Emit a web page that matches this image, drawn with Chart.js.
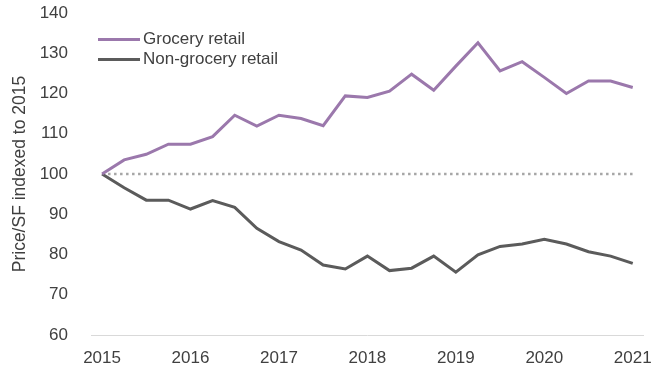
<!DOCTYPE html>
<html>
<head>
<meta charset="utf-8">
<script src="https://cdn.jsdelivr.net/npm/chart.js@4"></script>
<style>
  html, body { margin: 0; padding: 0; background: #fff; }
  #wrap { position: relative; width: 665px; height: 370px; font-family: "Liberation Sans", Arial, sans-serif; }
  #chart { position: absolute; left: 0; top: 0; }
  .legend { position: absolute; left: 98px; top: 29px; font-size: 17px; color: #404040; line-height: 20px; }
  .legend div { display: flex; align-items: center; }
  .legend i { display: inline-block; width: 42px; height: 3px; margin-right: 3px; }
</style>
</head>
<body>
<div id="wrap">
  <canvas id="chart" width="665" height="370"></canvas>
  <div class="legend">
    <div><i style="background:#9b78ac"></i>Grocery retail</div>
    <div><i style="background:#5b5b5b"></i>Non-grocery retail</div>
  </div>
</div>
<script>
// quarterly points, 2015 Q1 .. 2021 Q1; only year starts get a label
const quarters = [
  '2015', '', '', '',
  '2016', '', '', '',
  '2017', '', '', '',
  '2018', '', '', '',
  '2019', '', '', '',
  '2020', '', '', '',
  '2021',
];

const grocery = [
  100, 103.5, 104.9, 107.4, 107.4, 109.3, 114.6, 111.9,
  114.6, 113.8, 112.0, 119.4, 119.0, 120.6, 124.8, 120.8,
  126.8, 132.6, 125.6, 127.9, 124.0, 120.0, 123.1, 123.1,
  121.5,
];

const nonGrocery = [
  100, 96.6, 93.5, 93.5, 91.3, 93.4, 91.7, 86.5,
  83.2, 81.1, 77.4, 76.4, 79.6, 76.0, 76.6, 79.6,
  75.6, 79.9, 82.0, 82.6, 83.8, 82.6, 80.7, 79.6,
  77.8,
];

// 2015 baseline reference
const baseline = [
  100, 100, 100, 100, 100, 100, 100, 100,
  100, 100, 100, 100, 100, 100, 100, 100,
  100, 100, 100, 100, 100, 100, 100, 100,
  100,
];

const yTicks = [60, 70, 80, 90, 100, 110, 120, 130, 140];

const FONT = { family: '"Liberation Sans", Arial, sans-serif', size: 17 };
const TEXT = '#404040';

new Chart(document.getElementById('chart'), {
  type: 'line',
  data: {
    labels: quarters,
    datasets: [
      {
        label: 'Grocery retail',
        data: grocery,
        borderColor: '#9b78ac',
        borderWidth: 3,
        pointRadius: 0,
        tension: 0,
      },
      {
        label: 'Non-grocery retail',
        data: nonGrocery,
        borderColor: '#5b5b5b',
        borderWidth: 3,
        pointRadius: 0,
        tension: 0,
      },
      {
        label: 'baseline',
        data: baseline,
        borderColor: '#a6a6a6',
        borderWidth: 2.5,
        borderDash: [2.5, 3.5],
        pointRadius: 0,
        order: 5,
      },
    ],
  },
  options: {
    responsive: false,
    animation: false,
    layout: { padding: { left: 0, right: 18, top: 13, bottom: 0 } },
    plugins: {
      legend: { display: false },
      tooltip: { enabled: false },
    },
    scales: {
      x: {
        offset: true,
        grid: { display: false, drawTicks: false },
        border: { color: '#d9d9d9', width: 1 },
        ticks: {
          autoSkip: false,
          maxRotation: 0,
          padding: 13,
          color: TEXT,
          font: FONT,
        },
        afterFit: s => { s.height = 35; },
      },
      y: {
        min: 60, max: 140,
        afterBuildTicks: s => { s.ticks = yTicks.map(v => ({ value: v })); },
        grid: { display: false, drawTicks: false },
        border: { display: false },
        title: {
          display: true,
          text: 'Price/SF indexed to 2015',
          color: TEXT,
          font: { family: FONT.family, size: 17.5 },
          padding: { top: 10, bottom: 0 },
        },
        ticks: { padding: 23, color: TEXT, font: FONT },
        afterFit: s => {
          s.width = 91;
          s.paddingTop = 0;
          s.paddingBottom = 0;
        },
      },
    },
  },
});
</script>
</body>
</html>
